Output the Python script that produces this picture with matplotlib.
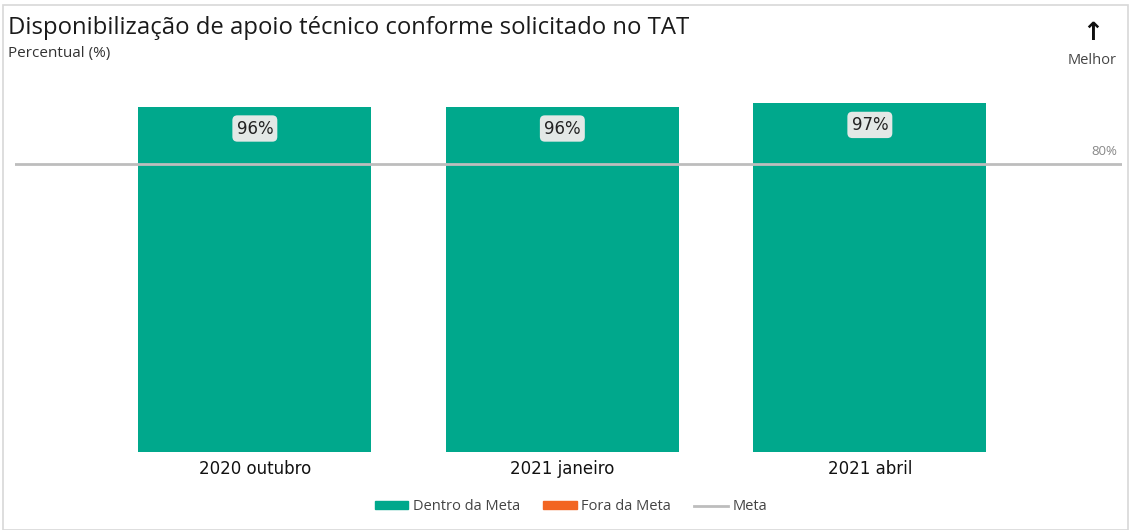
import matplotlib.pyplot as plt
from matplotlib.patches import Rectangle, Patch
from matplotlib.lines import Line2D

categories = ["2020 outubro", "2021 janeiro", "2021 abril"]
values = [96, 96, 97]
meta = 80

teal = "#00A88C"
orange = "#F26522"
gray_line = "#BDBDBD"

fig = plt.figure(figsize=(11.31, 5.30), dpi=100)
ax = fig.add_axes([15 / 1131, 1 - 452 / 530, 1107 / 1131, (452 - 71) / 530])

x = range(len(categories))
ax.bar(x, values, width=0.758, color=teal, zorder=2)
ax.axhline(meta, color=gray_line, lw=2, zorder=3)

for xi, v in zip(x, values):
    ax.text(xi, v - 6, f"{v}%", ha="center", va="center", fontsize=12,
            family="DejaVu Sans", color="#222222", zorder=4,
            bbox=dict(boxstyle="round,pad=0.25,rounding_size=0.3",
                      fc="#E3E8E6", ec="none"))

ax.set_xlim(-0.78, 2.82)
ax.set_ylim(0, 106)
ax.set_xticks(list(x))
ax.set_xticklabels(categories, fontsize=12, family="DejaVu Sans", color="#111111")
ax.tick_params(axis="x", length=0, pad=6)
ax.set_yticks([])
for s in ax.spines.values():
    s.set_visible(False)

ax.text(1117 / 1131, 1 - 152 / 530, "80%", transform=fig.transFigure,
        ha="right", va="center", fontsize=9.5, color="#888888", family="Open Sans")

# titles
fig.text(8 / 1131, 1 - 28 / 530, "Disponibilização de apoio técnico conforme solicitado no TAT",
         fontsize=17.2, family="Open Sans", color="#1a1a1a", va="center")
fig.text(8 / 1131, 1 - 54 / 530, "Percentual (%)", fontsize=11,
         family="Open Sans", color="#333333", va="center")
fig.text(1093 / 1131, 1 - 33 / 530, "↑", fontsize=18, family="DejaVu Sans",
         color="#111111", ha="center", va="center", fontweight="bold")
fig.text(1092 / 1131, 1 - 60 / 530, "Melhor", fontsize=10.5, family="Open Sans",
         color="#444444", ha="center", va="center")

# legend
handles = [Patch(color=teal), Patch(color=orange), Line2D([], [], color=gray_line, lw=2)]
labels = ["Dentro da Meta", "Fora da Meta", "Meta"]
fig.legend(handles, labels, loc="center", bbox_to_anchor=(571 / 1131, 1 - 507 / 530),
           ncol=3, frameon=False, handlelength=2.3, handleheight=0.5,
           handletextpad=0.3, columnspacing=1.6,
           prop={"family": "Open Sans", "size": 10.5}, labelcolor="#444444")

# outer frame
fig.patches.append(Rectangle((3 / 1131, 0), 1 - 6 / 1131, 1 - 5 / 530,
                             transform=fig.transFigure, fill=False,
                             ec="#D8D8D8", lw=1.2))

fig.savefig("out.png", dpi=100)
